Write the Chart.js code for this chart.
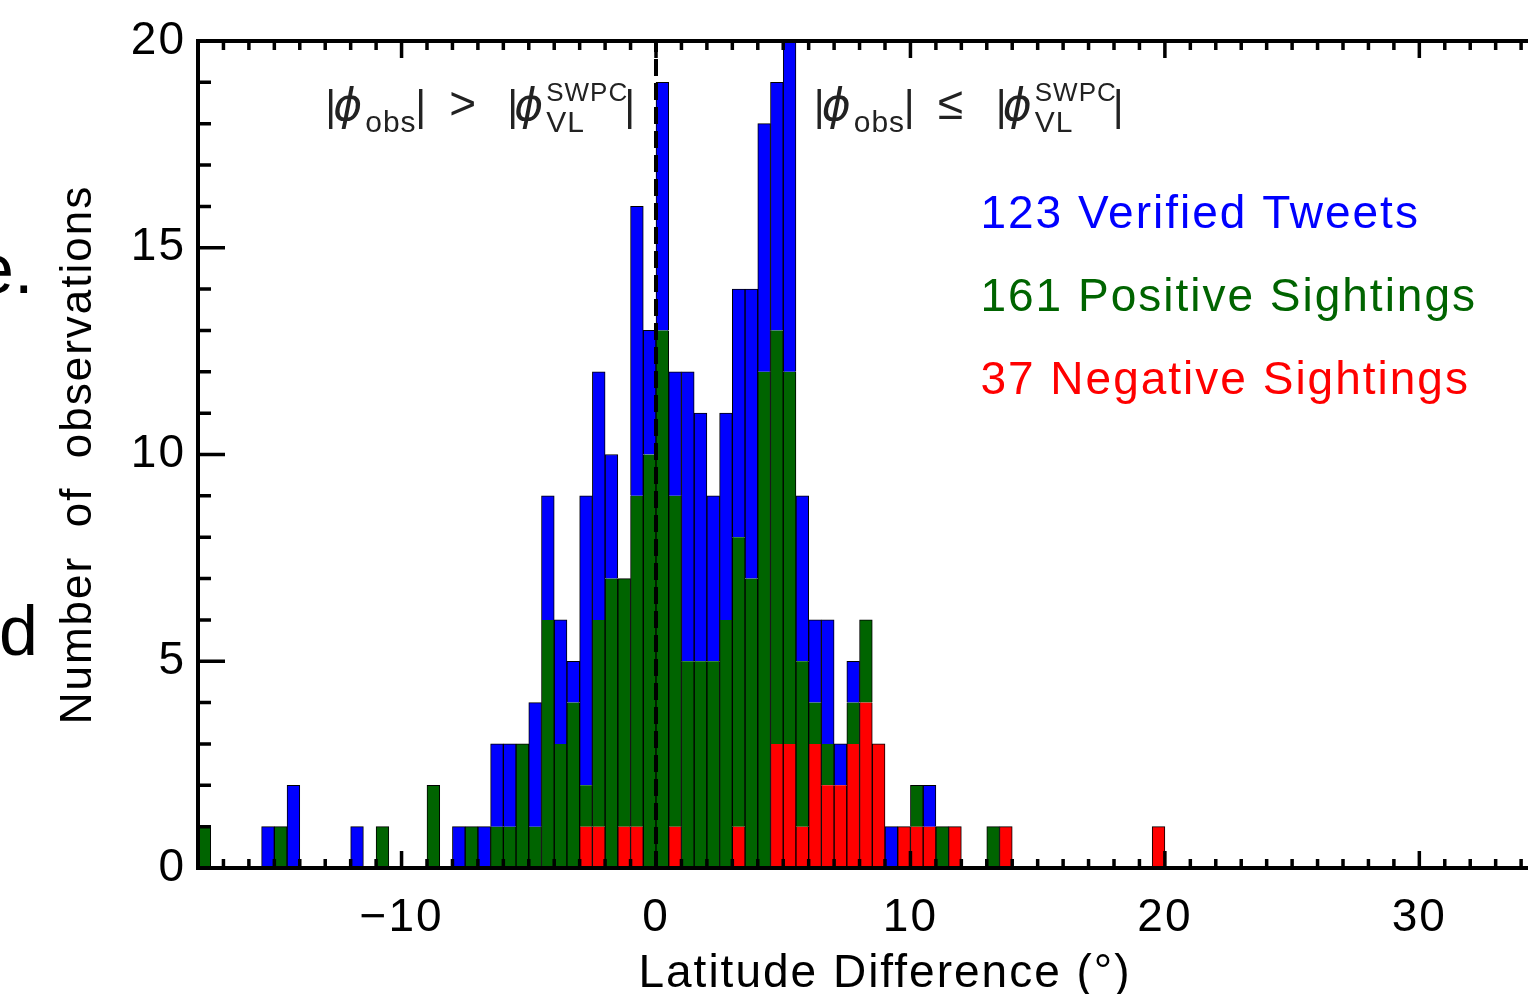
<!DOCTYPE html>
<html lang="en">
  <head>
    <meta charset="UTF-8" />
    <title>Latitude Difference Histogram</title>
    <script src="https://cdn.jsdelivr.net/npm/chart.js"></script>
    <style>
      html,
      body {
        margin: 0;
        padding: 0;
        background: #fff;
        overflow: hidden;
      }

      /* the original figure is cropped on the right, so the plot runs past the window */
      #chart-container {
        position: relative;
        width: 1572px;
        height: 994px;
      }
    </style>
  </head>
  <body>
    <div id="chart-container">
      <canvas id="histChart"></canvas>
    </div>

    <script>
      // histogram bins: 0.5 deg wide, first bin starts at -18 deg
      const binStart = -18;
      const binWidth = 0.5;

      // counts per bin (bins -18 .. 20), stacked red / green / blue
      const negativeCounts = [
        0, 0, 0, 0, 0, 0, 0, 0, 0, 0,
        0, 0, 0, 0, 0, 0, 0, 0, 0, 0,
        0, 0, 0, 0, 0, 0, 0, 0, 0, 0,
        1, 1, 0, 1, 1, 0, 0, 1, 0, 0,
        0, 0, 1, 0, 0, 3, 3, 1, 3, 2,
        2, 3, 4, 3, 0, 1, 1, 1, 0, 1,
        0, 0, 0, 1, 0, 0, 0, 0, 0, 0,
        0, 0, 0, 0, 0, 1,
      ];
      const positiveCounts = [
        1, 0, 0, 0, 0, 0, 1, 0, 0, 0,
        0, 0, 0, 0, 1, 0, 0, 0, 2, 0,
        0, 1, 0, 1, 1, 3, 1, 6, 3, 4,
        1, 5, 7, 6, 8, 10, 13, 8, 5, 5,
        5, 6, 7, 7, 12, 10, 9, 4, 1, 1,
        0, 1, 2, 0, 0, 0, 1, 0, 1, 0,
        0, 0, 1, 0, 0, 0, 0, 0, 0, 0,
        0, 0, 0, 0, 0, 0,
      ];
      const tweetCounts = [
        0, 0, 0, 0, 0, 1, 0, 2, 0, 0,
        0, 0, 1, 0, 0, 0, 0, 0, 0, 0,
        1, 0, 1, 2, 2, 0, 3, 3, 3, 1,
        7, 6, 3, 0, 7, 3, 6, 3, 7, 6,
        4, 5, 6, 7, 6, 6, 8, 4, 2, 3,
        1, 1, 0, 0, 1, 0, 0, 1, 0, 0,
        0, 0, 0, 0, 0, 0, 0, 0, 0, 0,
        0, 0, 0, 0, 0, 0,
      ];

      const seriesNames = ["Negative Sightings", "Positive Sightings", "Verified Tweets"];
      const seriesTotals = [37, 161, 123];
      const seriesColors = ["#ff0000", "#006400", "#0000ff"];

      const xMin = -18;
      const xMax = 36;
      const yMax = 20;

      const baseFont = '"Liberation Sans", Arial, sans-serif';

      function toPoints(counts) {
        return counts.map((c, i) => ({
          x: binStart + binWidth * (i + 0.5),
          y: c > 0 ? c : null,
        }));
      }

      function formatX(value) {
        if (value < 0) return "\u2212" + Math.abs(value);
        return String(value);
      }

      // relation label like |phi_obs| > |phi^SWPC_VL|
      function drawRelation(ctx, x0, base, symbol) {
        const main = "42px " + baseFont;
        const phi = 'italic 44px "DejaVu Sans", sans-serif';
        const sub = "30px " + baseFont;
        const sup = "26px " + baseFont;
        const parts = [
          ["|", main, 0, 0],
          ["\u03d5", phi, 8, 0],
          ["obs", sub, 40, 12],
          ["|", main, 90, 0],
          [symbol, "46px " + baseFont, 124, -1],
          ["|", main, 182, 0],
          ["\u03d5", phi, 189, 0],
          ["SWPC", sup, 221, -19],
          ["VL", sub, 221, 12],
          ["|", main, 299, 0],
        ];
        ctx.fillStyle = "#222";
        ctx.textAlign = "left";
        ctx.textBaseline = "alphabetic";
        parts.forEach(([t, f, dx, dy]) => {
          ctx.font = f;
          ctx.fillText(t, x0 + dx, base + dy);
        });
      }

      const spacingPlugin = {
        id: "spacing",
        beforeDraw(chart) {
          chart.ctx.letterSpacing = "2px";
        },
      };

      const framePlugin = {
        id: "frame",
        afterDatasetsDraw(chart) {
          const { ctx, chartArea: a } = chart;
          const x = chart.scales.x;
          const y = chart.scales.y;
          ctx.save();
          ctx.strokeStyle = "#000";

          // dashed line at zero difference
          const x0 = x.getPixelForValue(0);
          ctx.lineWidth = 4;
          ctx.setLineDash([17, 7]);
          ctx.beginPath();
          ctx.moveTo(x0, a.bottom);
          ctx.lineTo(x0, a.top);
          ctx.stroke();
          ctx.setLineDash([]);

          // inward tick marks on all sides
          ctx.lineWidth = 3.5;
          ctx.beginPath();
          for (let v = Math.ceil(xMin); v <= xMax; v++) {
            const px = x.getPixelForValue(v);
            const len = v % 10 === 0 ? 17 : 9;
            ctx.moveTo(px, a.bottom);
            ctx.lineTo(px, a.bottom - len);
            ctx.moveTo(px, a.top);
            ctx.lineTo(px, a.top + len);
          }
          for (let v = 0; v <= yMax; v++) {
            const py = y.getPixelForValue(v);
            const len = v % 5 === 0 ? 27 : 13;
            ctx.moveTo(a.left, py);
            ctx.lineTo(a.left + len, py);
            ctx.moveTo(a.right, py);
            ctx.lineTo(a.right - len, py);
          }
          ctx.stroke();

          // axis frame
          ctx.lineWidth = 4;
          ctx.strokeRect(a.left, a.top, a.right - a.left, a.bottom - a.top);
          ctx.restore();
        },
        afterDraw(chart) {
          const { ctx } = chart;
          const x = chart.scales.x;
          const y = chart.scales.y;
          ctx.save();
          ctx.letterSpacing = "1px";

          drawRelation(ctx, x.getPixelForValue(-13), y.getPixelForValue(18.1), ">");
          drawRelation(ctx, x.getPixelForValue(6.2), y.getPixelForValue(18.1), "\u2264");

          // legend as coloured text, top entry is the last series
          ctx.letterSpacing = "2px";
          ctx.font = "46px " + baseFont;
          ctx.textAlign = "left";
          ctx.textBaseline = "alphabetic";
          const rows = [15.48, 13.47, 11.46];
          [2, 1, 0].forEach((s, k) => {
            ctx.fillStyle = seriesColors[s];
            ctx.fillText(
              seriesTotals[s] + " " + seriesNames[s],
              x.getPixelForValue(12.75),
              y.getPixelForValue(rows[k])
            );
          });

          // cut-off letters from the neighbouring panel
          ctx.letterSpacing = "0px";
          ctx.fillStyle = "#000";
          ctx.font = "70px " + baseFont;
          ctx.fillText("e.", -25, 293);
          ctx.fillText("d", -1, 655);
          ctx.restore();
        },
      };

      const ctx = document.getElementById("histChart").getContext("2d");

      const datasets = [negativeCounts, positiveCounts, tweetCounts].map((counts, i) => ({
        label: seriesNames[i],
        data: toPoints(counts),
        backgroundColor: seriesColors[i],
        borderColor: "#000",
        borderWidth: 1,
        borderSkipped: "middle",
        barPercentage: 1,
        categoryPercentage: 1,
      }));

      const histChart = new Chart(ctx, {
        type: "bar",
        data: { datasets: datasets },
        options: {
          responsive: true,
          maintainAspectRatio: false,
          animation: false,
          layout: { padding: { top: 41, right: 0, left: 0, bottom: 0 } },
          plugins: {
            legend: { display: false },
            tooltip: { enabled: false },
          },
          scales: {
            x: {
              type: "linear",
              stacked: true,
              offset: false,
              min: xMin,
              max: xMax,
              grid: { display: false, drawTicks: false, offset: false },
              border: { display: false },
              ticks: {
                stepSize: 10,
                includeBounds: false,
                autoSkip: false,
                maxRotation: 0,
                padding: 23,
                color: "#000",
                font: { family: baseFont, size: 46 },
                callback: (value) => formatX(value),
              },
              title: {
                display: true,
                text: "Latitude Difference (\u00b0)",
                color: "#000",
                font: { family: baseFont, size: 46 },
                padding: { top: 0, bottom: -8 },
              },
              afterFit: (scale) => {
                scale.height = 126;
              },
            },
            y: {
              stacked: true,
              min: 0,
              max: yMax,
              grid: { display: false, drawTicks: false },
              border: { display: false },
              ticks: {
                stepSize: 5,
                padding: 12,
                color: "#000",
                font: { family: baseFont, size: 46 },
              },
              title: {
                display: true,
                text: "Number  of  observations",
                color: "#000",
                font: { family: baseFont, size: 44 },
                padding: { top: 52, bottom: 0 },
              },
              afterFit: (scale) => {
                scale.width = 198;
              },
            },
          },
        },
        plugins: [spacingPlugin, framePlugin],
      });
    </script>
  </body>
</html>
